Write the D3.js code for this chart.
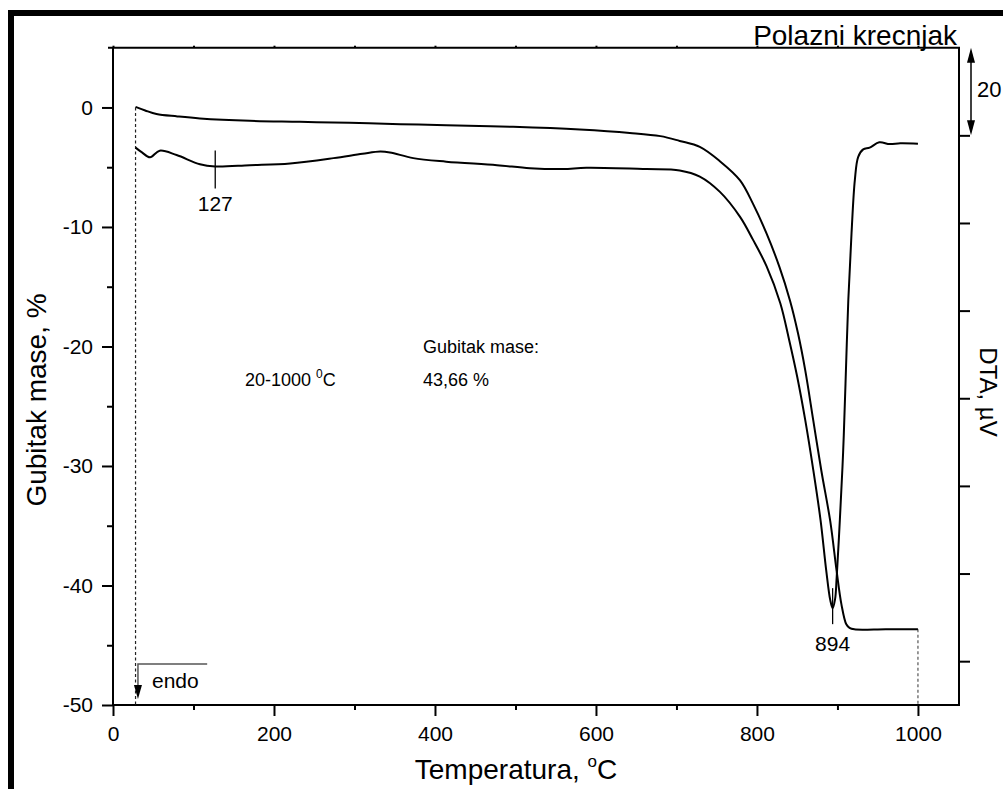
<!DOCTYPE html>
<html><head><meta charset="utf-8">
<script src="https://cdn.jsdelivr.net/npm/d3@7"></script>
<style>body{margin:0;background:#fff}svg{display:block}text{font-family:"Liberation Sans",Arial,sans-serif;fill:#000}</style>
</head><body><svg id="c" width="1003" height="789"></svg>
<script>
// ---- data ----
const xMajorTicks = [0, 200, 400, 600, 800, 1000];
const xMinorTicks = [100, 300, 500, 700, 900];
const yMajorTicks = [0, -10, -20, -30, -40, -50];
const yMinorTicks = [-5, -15, -25, -35, -45];
const dtaTicks = [0, -20, -40, -60, -80, -100, -120];
// TG curve: temperature (°C), mass loss (%)
const tgTemp = [28,40,54,80,108,170,232,294,357,414,497,580,642,680,704,729,754,779,795,812,828,841,851,860,870,880,891,899,905,911,915,921,960,1000];
const tgMass = [0.05,-0.25,-0.55,-0.75,-0.92,-1.12,-1.2,-1.29,-1.4,-1.48,-1.62,-1.85,-2.13,-2.4,-2.8,-3.3,-4.5,-6.1,-8.05,-10.56,-13.36,-16.15,-18.9,-22.0,-26.2,-30.4,-34.6,-38.8,-41.6,-43.25,-43.55,-43.67,-43.66,-43.66];
// DTA curve: temperature (°C), signal (µV)
const dtaTemp = [28,36,46,58,79,108,127,170,220,274,310,332,344,373,414,477,518,559,588,663,704,729,754,779,795,812,829,840,850,860,870,879,886,891,894,897,899,903,907,910,913.5,917.5,921.6,925.8,932,940,952,965,978,1000];
const dtaVal = [-2.8,-3.9,-5.0,-3.5,-4.5,-6.6,-7.1,-6.8,-6.4,-5.2,-4.2,-3.7,-3.9,-5.2,-6.0,-6.8,-7.5,-7.7,-7.4,-7.7,-8.0,-9.4,-12.9,-18.6,-23.8,-29.9,-38.3,-46.7,-55.1,-65.0,-76.4,-87.8,-99.2,-106.0,-107.9,-105.9,-101.0,-87.7,-72.5,-56.7,-37.5,-22.3,-10.2,-4.9,-3.2,-2.8,-1.6,-2.0,-1.8,-1.9];
const peakLabels = ["127", "894"];
const peakTemps = [127, 894];

// ---- layout ----
const svg = d3.select("#c");
const L = 113, R = 959, T = 47.7, B = 705;
const x = d3.scaleLinear([0, 1051], [L, R]);
const y = d3.scaleLinear([-50, 5], [B, T]);
const yR = d3.scaleLinear([-130, 20], [B, T]);
const F = '"Liberation Sans",Arial,sans-serif';

// frame borders
svg.append("rect").attr("x",8).attr("y",10).attr("width",995).attr("height",6).attr("fill","#000");
svg.append("rect").attr("x",8).attr("y",10).attr("width",6).attr("height",779).attr("fill","#000");

function styleAxis(g){ g.select(".domain").remove(); g.selectAll("line").attr("stroke","#000").attr("stroke-width",2); g.selectAll("text").attr("font-family",F).attr("font-size",21).attr("fill","#000"); }
const fmt = d => String(d);

// bottom axis
svg.append("g").attr("transform",`translate(0,${B})`)
  .call(d3.axisBottom(x).tickValues(xMajorTicks).tickSize(11).tickPadding(10).tickFormat(fmt))
  .call(styleAxis);
svg.append("g").attr("transform",`translate(0,${B})`)
  .call(d3.axisBottom(x).tickValues(xMinorTicks).tickSize(5).tickFormat(""))
  .call(styleAxis);
// top axis (tiny marks)
svg.append("g").attr("transform",`translate(0,${T})`)
  .call(d3.axisTop(x).tickValues(xMajorTicks.concat(xMinorTicks)).tickSize(2).tickFormat(""))
  .call(styleAxis);
// left axis
svg.append("g").attr("transform",`translate(${L},0)`)
  .call(d3.axisLeft(y).tickValues(yMajorTicks).tickSize(11).tickPadding(9).tickFormat(fmt))
  .call(styleAxis);
svg.append("g").attr("transform",`translate(${L},0)`)
  .call(d3.axisLeft(y).tickValues(yMinorTicks).tickSize(6).tickFormat(""))
  .call(styleAxis);
// right axis
svg.append("g").attr("transform",`translate(${R},0)`)
  .call(d3.axisRight(yR).tickValues(dtaTicks).tickSize(11).tickFormat(""))
  .call(styleAxis);

// axis frame lines
svg.append("path").attr("d",`M${L-5},${T}H${R}V${B}H${L}V${T}`).attr("fill","none").attr("stroke","#000").attr("stroke-width",2);

// dashed verticals
svg.append("line").attr("x1",x(28)).attr("x2",x(28)).attr("y1",y(0)).attr("y2",B)
  .attr("stroke","#222").attr("stroke-width",1.2).attr("stroke-dasharray","3,2.5");
svg.append("line").attr("x1",x(1000)).attr("x2",x(1000)).attr("y1",y(-43.66)).attr("y2",B)
  .attr("stroke","#555").attr("stroke-width",1.2).attr("stroke-dasharray","3,2.5");

// curves
const tgData = tgTemp.map((t,i)=>[t,tgMass[i]]);
const dtaData = dtaTemp.map((t,i)=>[t,dtaVal[i]]);
svg.append("path").datum(tgData)
  .attr("d", d3.line().x(d=>x(d[0])).y(d=>y(d[1])).curve(d3.curveCatmullRom.alpha(0.5)))
  .attr("fill","none").attr("stroke","#000").attr("stroke-width",2);
svg.append("path").datum(dtaData)
  .attr("d", d3.line().x(d=>x(d[0])).y(d=>yR(d[1])).curve(d3.curveCatmullRom.alpha(0.5)))
  .attr("fill","none").attr("stroke","#000").attr("stroke-width",2);

// peak markers
const dtaAt = t => { const i = dtaTemp.indexOf(t); return dtaVal[i]; };
svg.append("line").attr("x1",x(peakTemps[0])).attr("x2",x(peakTemps[0]))
  .attr("y1",yR(dtaAt(127))-16).attr("y2",yR(dtaAt(127))+22).attr("stroke","#000").attr("stroke-width",1.3);
svg.append("text").attr("x",x(peakTemps[0])).attr("y",yR(dtaAt(127))+45).attr("text-anchor","middle")
  .attr("font-size",21).text(peakLabels[0]);
svg.append("line").attr("x1",x(peakTemps[1])).attr("x2",x(peakTemps[1]))
  .attr("y1",yR(dtaAt(894))-20).attr("y2",yR(dtaAt(894))+16).attr("stroke","#000").attr("stroke-width",1.3);
svg.append("text").attr("x",x(peakTemps[1])).attr("y",yR(dtaAt(894))+43).attr("text-anchor","middle")
  .attr("font-size",21).text(peakLabels[1]);

// endo marker
svg.append("path").attr("d",`M${x(117)},664H${x(31)}V688`).attr("fill","none").attr("stroke","#555").attr("stroke-width",1.5);
svg.append("path").attr("d",`M${x(31)-4},685L${x(31)+4},685L${x(31)},699Z`).attr("fill","#000");
svg.append("text").attr("x",152).attr("y",688).attr("font-size",21).text("endo");

// scale bar arrow (20 µV)
const ax = 971;
svg.append("line").attr("x1",ax).attr("x2",ax).attr("y1",yR(20)+12).attr("y2",yR(0)-12).attr("stroke","#000").attr("stroke-width",1.5);
svg.append("path").attr("d",`M${ax},${yR(20)}L${ax-4},${yR(20)+15}L${ax+4},${yR(20)+15}Z`).attr("fill","#000");
svg.append("path").attr("d",`M${ax},${yR(0)}L${ax-4},${yR(0)-15}L${ax+4},${yR(0)-15}Z`).attr("fill","#000");
svg.append("text").attr("x",977).attr("y",97).attr("font-size",22).text("20");

// title at top right
svg.append("text").attr("x",957).attr("y",45).attr("text-anchor","end").attr("font-size",28).text("Polazni krecnjak");

// annotations
svg.append("text").attr("x",423).attr("y",353).attr("font-size",18).text("Gubitak mase:");
svg.append("text").attr("x",423).attr("y",386).attr("font-size",18).text("43,66 %");
const t1 = svg.append("text").attr("x",245).attr("y",386).attr("font-size",18);
t1.append("tspan").text("20-1000 ");
t1.append("tspan").attr("font-size",12).attr("dy",-8).text("0");
t1.append("tspan").attr("dy",8).text("C");

// axis titles
const xt = svg.append("text").attr("x",516).attr("y",779).attr("text-anchor","middle").attr("font-size",28);
xt.append("tspan").text("Temperatura, ");
xt.append("tspan").attr("font-size",17).attr("dy",-12).text("o");
xt.append("tspan").attr("dy",12).text("C");
svg.append("text").attr("transform","translate(46,400) rotate(-90)").attr("text-anchor","middle").attr("font-size",28).text("Gubitak mase, %");
svg.append("text").attr("transform","translate(980,392) rotate(90)").attr("text-anchor","middle").attr("font-size",24).text("DTA, \u00b5V");
</script></body></html>
